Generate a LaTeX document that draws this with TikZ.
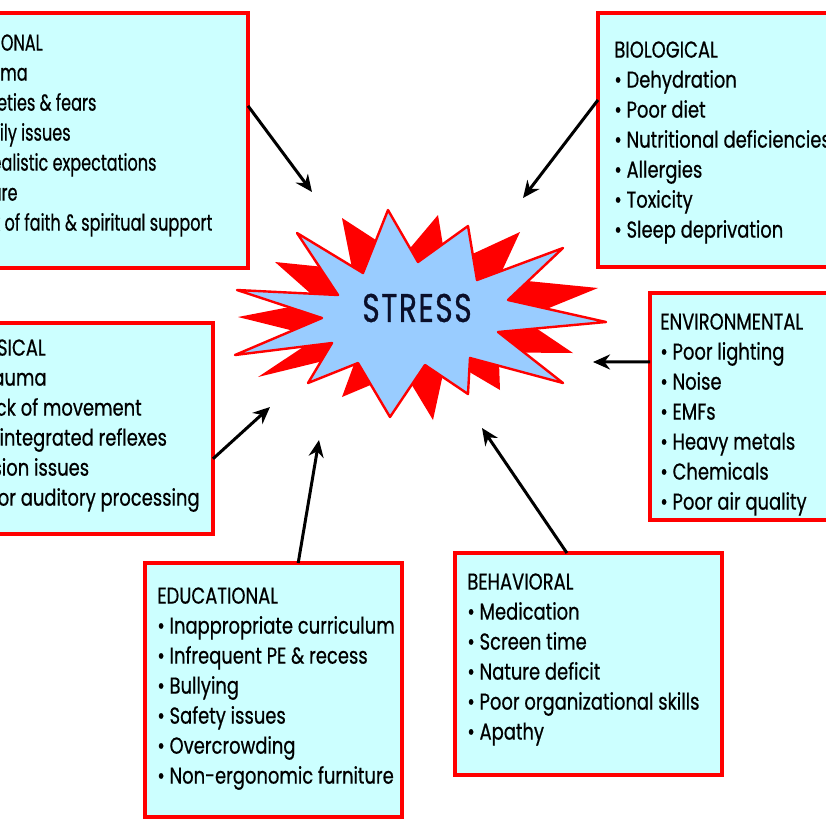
\documentclass[tikz,border=0pt]{standalone}
\usepackage{fontspec}
\setmainfont{Poppins}
\newfontfamily\boxfont[FakeStretch=0.78,FakeBold=0.6]{Poppins}
\newfontfamily\boxfontn[FakeStretch=0.70,FakeBold=0.6]{Poppins}
\newfontfamily\stressfont[FakeStretch=0.74,FakeBold=0.8,LetterSpace=4]{Poppins}
\usetikzlibrary{arrows.meta}
\definecolor{boxfill}{HTML}{CCFFFF}
\definecolor{starblue}{HTML}{99CCFF}
\definecolor{bordred}{HTML}{FF0000}
\definecolor{stressink}{HTML}{0A0F2A}
\begin{document}
\begin{tikzpicture}[x=0.5pt,y=-0.5pt,
  box/.style={draw=bordred, fill=boxfill, line width=2.3pt, inner sep=0pt, outer sep=0pt},
  list/.style={font=\boxfont\fontsize{11.5}{15}\selectfont, align=left, inner sep=0pt, text=black},
  listn/.style={list, font=\boxfontn\fontsize{11.5}{15}\selectfont},
  arr/.style={line width=1.5pt, -{Stealth[length=8.5pt,width=7.5pt]}}]
\useasboundingbox (0,0) rectangle (826,826);
\clip (0,0) rectangle (826,826);
\fill[white] (0,0) rectangle (826,826);

% boxes
\node[box, minimum width=139pt, minimum height=127.5pt] (emo) at (109,140.5) {};
\node[box, minimum width=131pt, minimum height=127pt] (bio) at (729,140) {};
\node[box, minimum width=105pt, minimum height=113.5pt] (env) at (755,406.5) {};
\node[box, minimum width=121.5pt, minimum height=105.5pt] (phy) at (91.5,428.5) {};
\node[box, minimum width=128.5pt, minimum height=127pt] (edu) at (273.5,690) {};
\node[box, minimum width=133.5pt, minimum height=111pt] (beh) at (588.5,664) {};

% texts
\node[listn, anchor=north west] (emoT) at (-47,34) {EMOTIONAL\\• Trauma\\• Anxieties \& fears\\• Family issues\\• Unrealistic expectations\\• Failure\\• Lack of faith \& spiritual support};
\node[list, anchor=north west] (bioT) at (614,41) {BIOLOGICAL\\• Dehydration\\• Poor diet\\• Nutritional deficiencies\\• Allergies\\• Toxicity\\• Sleep deprivation};
\node[list, anchor=north west] (envT) at (660,313) {ENVIRONMENTAL\\• Poor lighting\\• Noise\\• EMFs\\• Heavy metals\\• Chemicals\\• Poor air quality};
\node[list, anchor=north east] (phyT) at (200,339) {PHYSICAL\\• Trauma\\• Lack of movement\\• Unintegrated reflexes\\• Vision issues\\• Poor auditory processing};
\node[list, anchor=north west] (eduT) at (157,587) {EDUCATIONAL\\• Inappropriate curriculum\\• Infrequent PE \& recess\\• Bullying\\• Safety issues\\• Overcrowding\\• Non-ergonomic furniture};
\node[list, anchor=north west] (behT) at (467,573) {BEHAVIORAL\\• Medication\\• Screen time\\• Nature deficit\\• Poor organizational skills\\• Apathy};

% star
\fill[bordred] (342,218) -- (402.4,257.25) -- (438,215) -- (446.4,266.05) -- (520,232) -- (498.65,278.15) -- (598,288) -- (522.3,318.85) -- (573,353) -- (498.65,352.4) -- (500,390) -- (446.4,358.45) -- (433,420) -- (403.5,371.1) -- (342,397) -- (358.4,352.4) -- (258,377) -- (318.25,337) -- (238,317) -- (319.35,301.25) -- (275,262) -- (352.35,269.9) -- cycle;
\filldraw[fill=starblue, draw=bordred, line width=1.2pt, line join=round] (388,210) -- (418,262) -- (468,226) -- (477,280) -- (563,248) -- (508,300) -- (606,322) -- (498,332) -- (563,383) -- (470,358) -- (468,394) -- (425,365) -- (390,417) -- (358,363) -- (308,383) -- (332,343) -- (235,355) -- (322,318) -- (237,290) -- (338,295) -- (297,233) -- (363,273) -- cycle;
\node[font=\stressfont\fontsize{20}{24}\selectfont, text=stressink, inner sep=0pt] (stress) at (417,308) {STRESS};

% arrow tips
\coordinate (t1) at (312,192);
\coordinate (t2) at (523,198);
\coordinate (t3) at (593,362);
\coordinate (t4) at (270,407);
\coordinate (t5) at (319,440);
\coordinate (t6) at (482,428);

\draw[arr] (emo.14) -- (t1);
\draw[arr] (bio.163) -- (t2);
\draw[arr] (env.157) -- (t3);
\draw[arr] (phy.-14) -- (t4);
\draw[arr] (edu.79.5) -- (t5);
\draw[arr] (beh.101) -- (t6);
\end{tikzpicture}
\end{document}
